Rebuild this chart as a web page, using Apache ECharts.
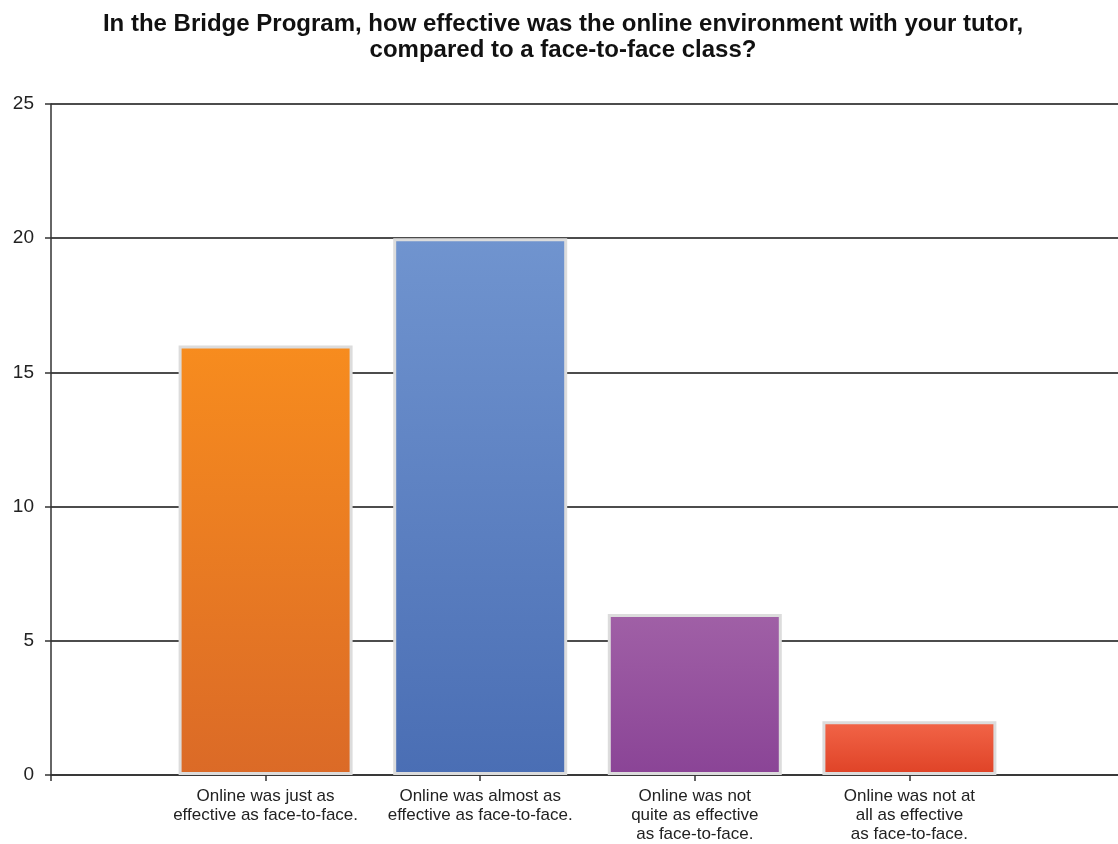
<!DOCTYPE html>
<html>
<head>
<meta charset="utf-8">
<script src="https://cdn.jsdelivr.net/npm/echarts@6/dist/echarts.min.js"></script>
<style>
html,body{margin:0;padding:0;background:#fff;}
#chart{width:1118px;height:844px;}
</style>
</head>
<body>
<div id="chart"></div>
<script>
const titleText = 'In the Bridge Program, how effective was the online environment with your tutor,\ncompared to a face-to-face class?';
const categories = ['', 'Online was just as\neffective as face-to-face.', 'Online was almost as\neffective as face-to-face.', 'Online was not\nquite as effective\nas face-to-face.', 'Online was not at\nall as effective\nas face-to-face.', ''];
const values = [null, 16, 20, 6, 2, null];
const yTicks = [0, 5, 10, 15, 20, 25];
const barTopColors = [null, '#f78c1e', '#7094cf', '#a060a6', '#f26548', null];
const barBottomColors = [null, '#db6a27', '#4a6eb4', '#8a4496', '#df4226', null];

const chart = echarts.init(document.getElementById('chart'), null, {renderer: 'canvas'});
chart.setOption({
  backgroundColor: '#fff',
  animation: false,
  title: {
    text: titleText,
    left: 558,
    top: 6,
    textAlign: 'center',
    textStyle: {
      fontFamily: 'Liberation Sans, Arial, sans-serif',
      fontSize: 24,
      fontWeight: 'bold',
      color: '#111',
      lineHeight: 26
    }
  },
  grid: {left: 51, width: 1073, top: 104, bottom: 69, containLabel: false, outerBoundsMode: 'none'},
  xAxis: {
    type: 'category',
    data: categories,
    boundaryGap: false,
    axisLine: {lineStyle: {color: '#333', width: 1.5}},
    axisTick: {
      show: true,
      length: 6,
      lineStyle: {color: '#333', width: 1.5},
      interval: function (i) { return i <= 4; }
    },
    axisLabel: {
      interval: 0,
      margin: 12,
      fontFamily: 'Liberation Sans, Arial, sans-serif',
      fontSize: 17,
      lineHeight: 19,
      color: '#222'
    },
    splitLine: {show: false}
  },
  yAxis: {
    type: 'value',
    min: yTicks[0],
    max: yTicks[yTicks.length - 1],
    interval: 5,
    axisLine: {show: true, lineStyle: {color: '#333', width: 1.5}},
    axisTick: {show: true, length: 6, lineStyle: {color: '#333', width: 1.5}},
    axisLabel: {
      margin: 17,
      fontFamily: 'Liberation Sans, Arial, sans-serif',
      fontSize: 19,
      color: '#222'
    },
    splitLine: {show: true, lineStyle: {color: '#111', width: 1.5}}
  },
  series: [{
    type: 'bar',
    barWidth: 174,
    data: values.map(function (v, i) {
      if (v === null) return null;
      return {
        value: v,
        itemStyle: {
          color: new echarts.graphic.LinearGradient(0, 0, 0, 1, [
            {offset: 0, color: barTopColors[i]},
            {offset: 1, color: barBottomColors[i]}
          ]),
          borderColor: '#dcdcdc',
          borderWidth: 3
        }
      };
    })
  }]
});
</script>
</body>
</html>
